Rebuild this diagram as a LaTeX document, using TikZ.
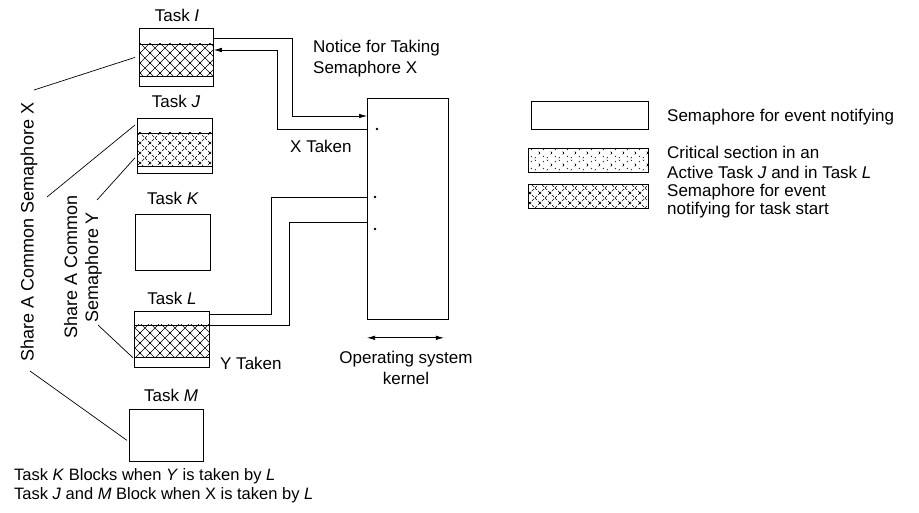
\documentclass[tikz,border=0pt]{standalone}
\usepackage{fontspec}
\setmainfont{Liberation Sans}
\usetikzlibrary{patterns,patterns.meta,arrows.meta,calc}

\pgfdeclarepattern{
  name=xhatch, type=uncolored,
  bottom left={\pgfpoint{-1pt}{-1pt}}, top right={\pgfpoint{11pt}{11pt}},
  tile size={\pgfpoint{10pt}{10pt}},
  code={\pgfsetlinewidth{0.6pt}
    \pgfpathmoveto{\pgfpoint{-1pt}{-1pt}}\pgfpathlineto{\pgfpoint{11pt}{11pt}}
    \pgfpathmoveto{\pgfpoint{-1pt}{11pt}}\pgfpathlineto{\pgfpoint{11pt}{-1pt}}
    \pgfusepath{stroke}}}

\pgfdeclarepattern{
  name=dxhatch, type=uncolored,
  bottom left={\pgfpoint{-1pt}{-1pt}}, top right={\pgfpoint{11pt}{11pt}},
  tile size={\pgfpoint{10pt}{10pt}},
  code={\pgfsetlinewidth{0.45pt}\pgfsetdash{{3pt}{1.2pt}}{0pt}
    \pgfpathmoveto{\pgfpoint{-1pt}{-1pt}}\pgfpathlineto{\pgfpoint{11pt}{11pt}}
    \pgfpathmoveto{\pgfpoint{-1pt}{11pt}}\pgfpathlineto{\pgfpoint{11pt}{-1pt}}
    \pgfusepath{stroke}}}

\pgfdeclarepattern{
  name=sxhatch, type=uncolored,
  bottom left={\pgfpoint{-1pt}{-1pt}}, top right={\pgfpoint{13pt}{13pt}},
  tile size={\pgfpoint{12pt}{12pt}},
  code={\pgfsetlinewidth{0.5pt}\pgfsetdash{{1.5pt}{4pt}}{0pt}
    \pgfpathmoveto{\pgfpoint{-1pt}{-1pt}}\pgfpathlineto{\pgfpoint{13pt}{13pt}}
    \pgfpathmoveto{\pgfpoint{-1pt}{13pt}}\pgfpathlineto{\pgfpoint{13pt}{-1pt}}
    \pgfusepath{stroke}}}

\begin{document}
\begin{tikzpicture}[x=1pt,y=-1pt,
  box/.style={draw, line width=0.8pt, inner sep=0pt, anchor=north west},
  band/.style={draw, line width=0.8pt},
  txt/.style={font=\fontsize{17}{20.5}\selectfont, inner sep=0pt},
  rtxt/.style={font=\fontsize{18}{21}\selectfont, inner sep=0pt, rotate=90, align=center},
  conn/.style={line width=0.7pt},
  tip/.style={-{Latex[length=8pt,width=4.5pt]}}
  ]
\useasboundingbox (0,0) rectangle (919,513);

% tasks
\node[box, minimum width=74pt, minimum height=58pt] (tI) at (139,28) {};
\draw[band, pattern=xhatch] ([yshift=-16pt]tI.north west) rectangle ([yshift=10pt]tI.south east);
\node[box, minimum width=75pt, minimum height=55pt] (tJ) at (137,118) {};
\draw[band, pattern=dxhatch] ([yshift=-15pt]tJ.north west) rectangle ([yshift=7pt]tJ.south east);
\node[box, minimum width=75pt, minimum height=56pt] (tK) at (135,214) {};
\node[box, minimum width=75pt, minimum height=56pt] (tL) at (134,311) {};
\draw[band, pattern=xhatch] ([yshift=-14pt]tL.north west) rectangle ([yshift=10pt]tL.south east);
\node[box, minimum width=74pt, minimum height=52pt] (tM) at (129,409) {};

\node[txt] (lI) at (177,15) {Task \textit{I}};
\node[txt] (lJ) at (176,101) {Task \textit{J}};
\node[txt] (lK) at (173,198) {Task \textit{K}};
\node[txt] (lL) at (172,298) {Task \textit{L}};
\node[txt] (lM) at (171,395) {Task \textit{M}};

% kernel
\node[box, minimum width=81pt, minimum height=221pt] (kern) at (367,98) {};
\fill (377,129) circle (1.3pt);
\fill (375,197) circle (1.3pt);
\fill (375,229) circle (1.3pt);
\draw[conn, {Latex[length=8pt,width=4.5pt]}-{Latex[length=8pt,width=4.5pt]}]
  ([yshift=-18pt]kern.south west) -- ([xshift=-5pt,yshift=-18pt]kern.south east);
\node[txt, anchor=north, align=center] (klbl) at (406,351) {Operating system\\kernel};

% connectors between tasks and kernel
\draw[conn, tip] ([yshift=-10pt]tI.north east) -- ++(79,0) |- ([yshift=-18pt]kern.north west);
\draw[conn, tip] ([yshift=-31pt]kern.north west) -- ++(-90,0) |- ([yshift=-22pt]tI.north east);
\draw[conn] ([yshift=-99pt]kern.north west) -- ++(-96,0) |- ([yshift=-3pt]tL.north east);
\draw[conn] ([yshift=-124pt]kern.north west) -- ++(-78,0) |- ([yshift=-14pt]tL.north east);

\node[txt, anchor=north west, align=left] (notice) at (313,40) {Notice for Taking\\Semaphore X};
\node[txt, anchor=west] (xtak) at (290,146) {X Taken};
\node[txt, anchor=west] (ytak) at (220,363) {Y Taken};

% shared semaphore labels
\node[rtxt] (semX) at (29,232) {Share A Common Semaphore X};
\node[rtxt] (semY) at (83,267) {Share A Common\\Semaphore Y};
\coordinate (sx1) at (34,90);
\coordinate (sx2) at (47,197);
\coordinate (sx3) at (30,371);
\coordinate (sy1) at (97,200);
\coordinate (sy2) at (98,325);
\draw[conn] (sx1) -- ([xshift=-4pt]tI.west);
\draw[conn] (sx2) -- ([xshift=-2pt,yshift=-7pt]tJ.north west);
\draw[conn] (sx3) -- ([xshift=-2pt,yshift=-5pt]tM.west);
\draw[conn] (sy1) -- ([xshift=-2pt,yshift=16pt]tJ.south west);
\draw[conn] (sy2) -- ([xshift=-1pt,yshift=10pt]tL.south west);

% bottom notes
\node[txt, anchor=north west, align=left, font=\fontsize{16.5}{19.5}\selectfont] (note) at (14,468)
  {Task \textit{K} Blocks when \textit{Y} is taken by \textit{L}\\Task \textit{J} and \textit{M} Block when X is taken by \textit{L}};

% legend
\node[box, minimum width=117pt, minimum height=28pt] (lg1) at (531,101) {};
\node[box, minimum width=120pt, minimum height=24pt, pattern=sxhatch] (lg2) at (528,148) {};
\node[box, minimum width=120pt, minimum height=24pt, pattern=dxhatch] (lg3) at (528,184) {};
\node[txt, anchor=north west] (lgt1) at (667,109) {Semaphore for event notifying};
\node[txt, anchor=north west, align=left, font=\fontsize{17}{19.5}\selectfont] (lgt2) at (667,146) {Critical section in an\\Active Task \textit{J} and in Task \textit{L}};
\node[txt, anchor=north west, align=left, font=\fontsize{17}{17.5}\selectfont] (lgt3) at (667,184) {Semaphore for event\\notifying for task start};
\end{tikzpicture}
\end{document}
